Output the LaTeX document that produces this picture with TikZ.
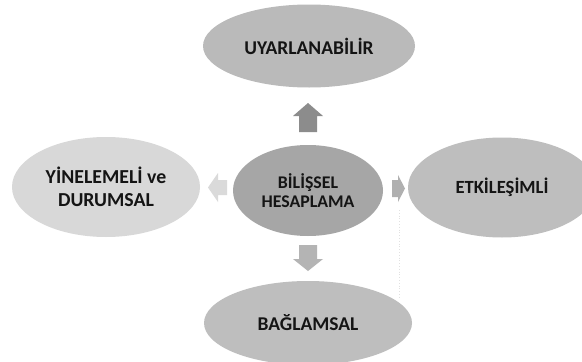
\documentclass[tikz,border=0pt]{standalone}
\usepackage{fontspec}
\setmainfont{Carlito}
\usetikzlibrary{shapes.geometric}
\definecolor{txt}{HTML}{141414}
\definecolor{ctop}{RGB}{186,186,186}
\definecolor{cmid}{RGB}{166,166,166}
\definecolor{cleft}{RGB}{216,216,216}
\definecolor{cright}{RGB}{190,190,190}
\definecolor{cbot}{RGB}{190,190,190}
\definecolor{cdot}{RGB}{225,225,225}
\definecolor{aup}{RGB}{140,140,140}
\definecolor{adown}{RGB}{180,180,180}
\definecolor{aleft}{RGB}{218,218,218}
\definecolor{aright}{RGB}{176,176,176}
\begin{document}
\begin{tikzpicture}[x=1pt,y=-1pt,
  oval/.style={ellipse, draw=none, inner sep=0pt, align=center,
    font=\fontsize{19.5}{22}\selectfont\bfseries, text=txt}]
\useasboundingbox (0,0) rectangle (582,362);
\clip (0,0) rectangle (582,362);
\fill[white] (0,0) rectangle (582,362);
% ellipses
\node[oval, fill=ctop, minimum width=212pt, minimum height=83pt] (top) at (309,46) {UYARLANABİLİR};
\node[oval, fill=cmid, minimum width=150pt, minimum height=91pt, font=\fontsize{17.8}{19}\selectfont\bfseries] (mid) at (308,190.5) {BİLİŞSEL\\HESAPLAMA};
\node[oval, fill=cleft, minimum width=188pt, minimum height=100pt, font=\fontsize{19.8}{22.5}\selectfont\bfseries] (left) at (106,187) {YİNELEMELİ ve\\DURUMSAL};
\node[oval, fill=cright, minimum width=188pt, minimum height=100pt, font=\fontsize{18.6}{22}\selectfont\bfseries] (right) at (502,187.5) {ETKİLEŞİMLİ};
\node[oval, fill=cbot, minimum width=208pt, minimum height=84pt] (bot) at (308,323) {BAĞLAMSAL};
% faint dotted line
\draw[dotted, draw=cdot, line width=0.8pt] (399,210) -- (399,297);
% block arrows
\fill[aup] (299,132) -- (317,132) -- (317,116) -- (323,116) -- (308,103) -- (293,116) -- (299,116) -- cycle;
\fill[adown] (299,245) -- (317,245) -- (317,259) -- (323,259) -- (308,271) -- (293,259) -- (299,259) -- cycle;
\fill[aleft] (227,180) -- (227,195) -- (218,195) -- (218,202) -- (208,187.5) -- (218,173) -- (218,180) -- cycle;
\fill[aright] (392,180) -- (392,197) -- (398,197) -- (398,202) -- (405,188.5) -- (398,175) -- (398,180) -- cycle;
\end{tikzpicture}
\end{document}
